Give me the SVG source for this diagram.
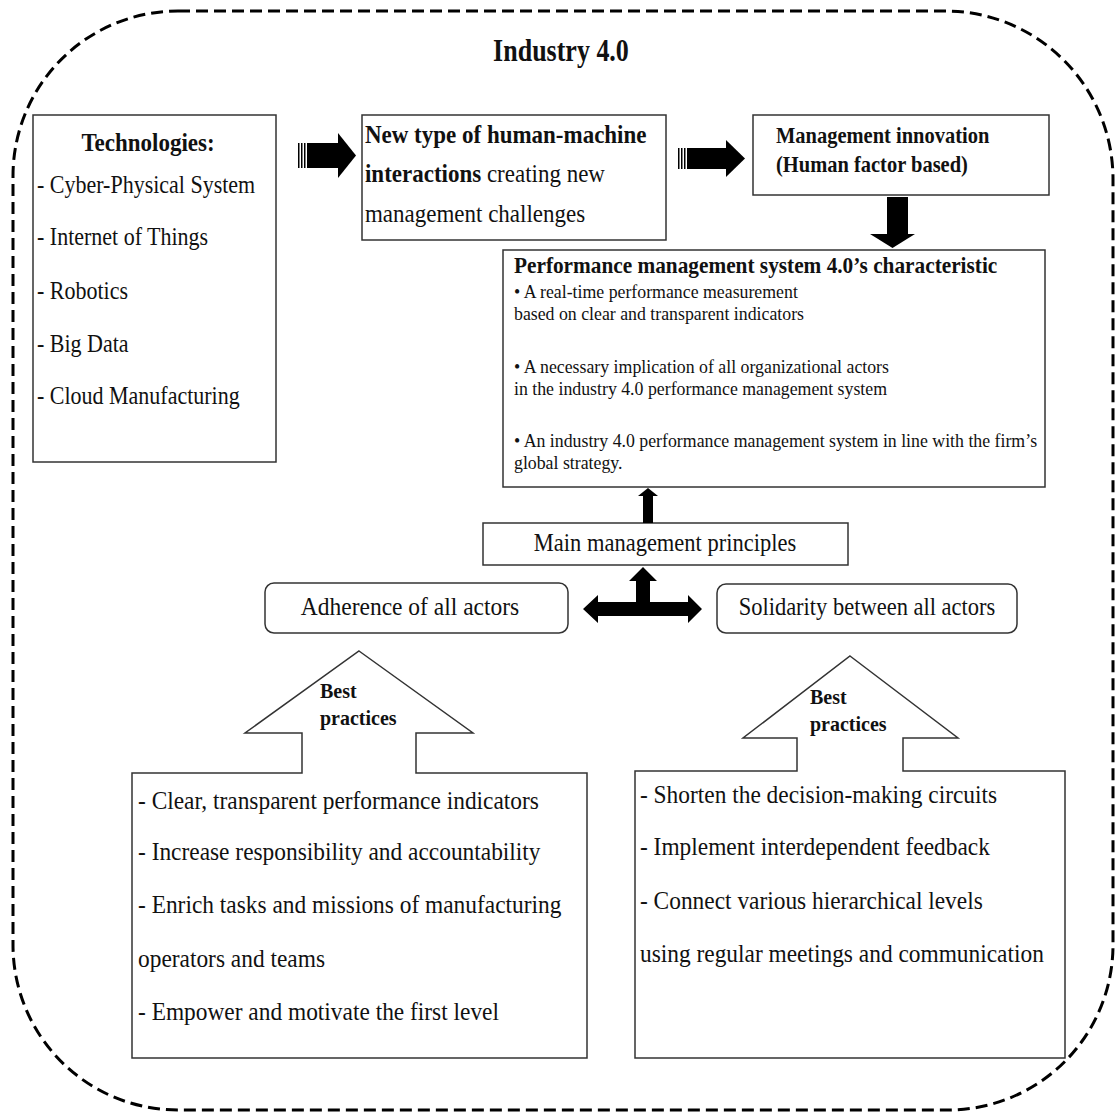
<svg xmlns="http://www.w3.org/2000/svg" width="1117" height="1115" viewBox="0 0 1117 1115">
<style>
text{font-family:"Liberation Serif","Times New Roman",serif;fill:#111;transform-box:fill-box;transform-origin:50% 80%;transform:scaleY(1.1)}
.b{font-weight:bold}
.t{font-size:22px}
.h{font-size:23.4px}
.p{font-size:17.8px}
.box{fill:#fff;stroke:#333;stroke-width:1.5}
.arr{fill:#000}
</style>
<rect width="1117" height="1115" fill="#fff"/>
<path d="M178,11 H945 A168,168 0 0 1 1113,179 V945 A165,165 0 0 1 948,1110 H178 A165,165 0 0 1 13,945 V176 A165,165 0 0 1 178,11 Z" fill="none" stroke="#000" stroke-width="3" stroke-dasharray="12 6"/>
<text x="561" y="61" text-anchor="middle" class="b" font-size="26" style="transform:scaleY(1.18)">Industry 4.0</text>

<g id="technologies">
<rect class="box" x="33" y="115" width="243" height="347"/>
<text x="148" y="151" text-anchor="middle" class="b" font-size="23">Technologies:</text>
<text x="37" y="193" class="t">- Cyber-Physical System</text>
<text x="37" y="245" class="t">- Internet of Things</text>
<text x="37" y="299" class="t">- Robotics</text>
<text x="37" y="352" class="t">- Big Data</text>
<text x="37" y="404" class="t">- Cloud Manufacturing</text>
</g>

<g id="interactions">
<rect class="box" x="362" y="115" width="304" height="125"/>
<text x="365" y="143" class="b" font-size="23">New type of human-machine</text>
<text x="365" y="182" font-size="23"><tspan class="b">interactions</tspan> creating new</text>
<text x="365" y="222" font-size="23">management challenges</text>
</g>

<g id="innovation">
<rect class="box" x="753" y="115" width="296" height="80"/>
<text x="776" y="143" class="b" font-size="20.5">Management innovation</text>
<text x="776" y="172" class="b" font-size="20.5">(Human factor based)</text>
</g>

<g id="pms">
<rect class="box" x="503" y="250" width="542" height="237"/>
<text x="514" y="273" class="b" font-size="21.3">Performance management system 4.0’s characteristic</text>
<text x="514" y="298" class="p">• A real-time performance measurement</text>
<text x="514" y="320" class="p">based on clear and transparent indicators</text>
<text x="514" y="373" class="p">• A necessary implication of all organizational actors</text>
<text x="514" y="395" class="p">in the industry 4.0 performance management system</text>
<text x="514" y="447" class="p">• An industry 4.0 performance management system in line with the firm’s</text>
<text x="514" y="469" class="p">global strategy.</text>
</g>

<g id="principles">
<rect class="box" x="483" y="523" width="365" height="42"/>
<text x="665" y="551" text-anchor="middle" font-size="22.5">Main management principles</text>
</g>

<g id="adherence">
<rect class="box" x="265" y="583" width="303" height="50" rx="9"/>
<text x="410" y="615" text-anchor="middle" font-size="23.5">Adherence of all actors</text>
</g>

<g id="solidarity">
<rect class="box" x="717" y="584" width="300" height="49" rx="9"/>
<text x="867" y="615" text-anchor="middle" font-size="22.5">Solidarity between all actors</text>
</g>

<g id="best-left">
<path class="box" d="M359,651 L473,733 H416 V773 H587 V1058 H132 V773 H302 V733 H245 Z"/>
<text x="320" y="698" class="b" font-size="20">Best</text>
<text x="320" y="725" class="b" font-size="20">practices</text>
<text x="138" y="809" class="h">- Clear, transparent performance indicators</text>
<text x="138" y="860" class="h">- Increase responsibility and accountability</text>
<text x="138" y="913" class="h">- Enrich tasks and missions of manufacturing</text>
<text x="138" y="967" class="h">operators and teams</text>
<text x="138" y="1020" class="h">- Empower and motivate the first level</text>
</g>

<g id="best-right">
<path class="box" d="M850,656 L958,738 H903 V771 H1065 V1058 H635 V771 H797 V738 H743 Z"/>
<text x="810" y="704" class="b" font-size="20">Best</text>
<text x="810" y="731" class="b" font-size="20">practices</text>
<text x="640" y="803" class="h">- Shorten the decision-making circuits</text>
<text x="640" y="855" class="h">- Implement interdependent feedback</text>
<text x="640" y="909" class="h">- Connect various hierarchical levels</text>
<text x="640" y="962" class="h">using regular meetings and communication</text>
</g>

<g id="connectors">
<g class="arr">
<rect x="298" y="143" width="1.5" height="25"/><rect x="301" y="143" width="1.5" height="25"/><rect x="304" y="143" width="1.5" height="25"/>
<rect x="307" y="143" width="32" height="25"/>
<polygon points="338,133 356,155.5 338,178"/>
<rect x="678" y="148" width="1.5" height="21"/><rect x="681" y="148" width="1.5" height="21"/><rect x="684" y="148" width="1.5" height="21"/>
<rect x="687" y="148" width="40" height="21"/>
<polygon points="726,140 745,158.5 726,177"/>
<rect x="887" y="197" width="21" height="38"/>
<polygon points="870,234 915,234 892.5,248"/>
<rect x="643" y="495" width="10" height="28"/>
<polygon points="638,496 658,496 648,488"/>
<polygon points="583,609 598,595 598,602 636,602 636,581 629,581 643,567 657,581 650,581 650,602 688,602 688,595 702,609 688,623 688,616 598,616 598,623"/>
</g>
</g>
</svg>
